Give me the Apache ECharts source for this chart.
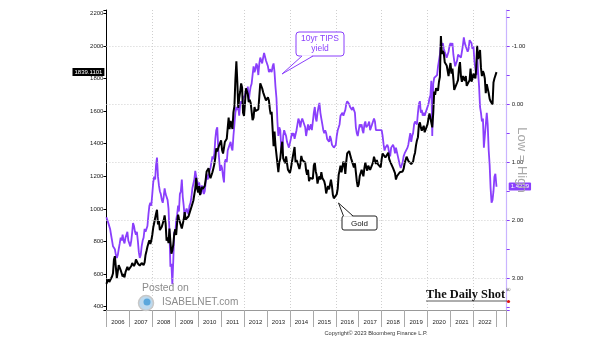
<!DOCTYPE html>
<html>
<head>
<meta charset="utf-8">
<script src="https://cdn.jsdelivr.net/npm/echarts@6/dist/echarts.min.js"></script>
<style>
  html, body { margin: 0; padding: 0; background: #fff; }
  #chart { width: 605px; height: 341px; }
</style>
</head>
<body>
<div id="chart"></div>
<script>
// Gold spot price (USD/oz), sampled on the 1st and 16th of each month, Jan 2006 - Dec 2022, plus the last print
const goldPrice = [
  540,555, 568,552, 560,555, 585,605, 690,710, 640,575, 615,655, 640,625, 625,585, 600,580, 612,622, 645,625,
  635,628, 650,668, 665,650, 663,690, 680,665, 665,652, 650,668, 665,655, 672,718, 742,768, 790,808, 785,805,
  840,885, 915,905, 970,995, 905,925, 870,880, 890,885, 930,960, 910,805, 825,790, 880,800, 725,745, 780,845,
  875,840, 920,965, 940,920, 922,880, 888,935, 980,935, 935,940, 955,945, 955,1012, 1002,1050, 1048,1125, 1190,1125,
  1100,1140, 1085,1112, 1135,1122, 1125,1142, 1180,1230, 1222,1250, 1210,1188, 1180,1225, 1250,1275, 1315,1372, 1352,1350, 1390,1385,
  1420,1362, 1340,1375, 1410,1400, 1430,1495, 1560,1490, 1540,1530, 1490,1592, 1630,1790, 1905,1780, 1620,1680, 1720,1770, 1745,1590,
  1570,1652, 1740,1735, 1705,1655, 1670,1650, 1660,1545, 1560,1625, 1600,1590, 1600,1610, 1690,1770, 1775,1740, 1715,1722, 1720,1665,
  1675,1685, 1665,1610, 1580,1595, 1600,1385, 1475,1390, 1395,1380, 1225,1285, 1310,1370, 1412,1310, 1310,1280, 1322,1280, 1240,1232,
  1220,1248, 1260,1320, 1330,1380, 1285,1300, 1285,1295, 1245,1275, 1325,1300, 1295,1305, 1285,1235, 1210,1240, 1170,1190, 1200,1195,
  1185,1265, 1282,1230, 1210,1155, 1185,1200, 1180,1225, 1190,1180, 1170,1145, 1095,1120, 1140,1120, 1115,1180, 1140,1085, 1065,1060,
  1062,1090, 1125,1210, 1235,1265, 1225,1235, 1290,1275, 1215,1290, 1340,1330, 1355,1345, 1310,1320, 1315,1255, 1280,1225, 1170,1135,
  1150,1200, 1210,1240, 1250,1200, 1250,1285, 1255,1235, 1265,1255, 1240,1230, 1270,1285, 1320,1320, 1275,1300, 1275,1280, 1275,1255,
  1305,1340, 1345,1350, 1315,1315, 1325,1345, 1305,1290, 1295,1280, 1250,1240, 1220,1180, 1200,1200, 1190,1225, 1215,1220, 1230,1245,
  1280,1290, 1320,1330, 1295,1305, 1290,1275, 1280,1290, 1325,1345, 1390,1420, 1440,1515, 1530,1500, 1480,1490, 1510,1470, 1465,1480,
  1520,1555, 1585,1585, 1590,1500, 1590,1720, 1700,1740, 1740,1725, 1780,1810, 2060,1950, 1970,1955, 1900,1905, 1880,1890, 1815,1860,
  1895,1830, 1860,1795, 1730,1730, 1730,1775, 1790,1865, 1900,1815, 1780,1815, 1810,1785, 1815,1755, 1755,1765, 1790,1860, 1780,1800,
  1830,1820, 1800,1870, 2000,1920, 1925,1975, 1865,1815, 1845,1830, 1800,1710, 1765,1775, 1710,1675, 1660,1650, 1640,1775, 1800,1790,
  1839.1101
];

// US 10-year TIPS real yield (%), same sampling dates
const tipsYield = [
  1.95,1.95, 2.05,2.05, 2.15,2.25, 2.35,2.45, 2.45,2.5, 2.6,2.65, 2.6,2.5, 2.4,2.3, 2.35,2.25, 2.35,2.4, 2.3,2.25, 2.2,2.35,
  2.4,2.45, 2.35,2.2, 2.05,2.1, 2.2,2.25, 2.2,2.35, 2.55,2.65, 2.6,2.45, 2.35,2.3, 2.15,2.2, 2.2,2.1, 1.9,1.75, 1.7,1.75,
  1.55,1.35, 1.25,1.3, 1.05,0.92, 1.25,1.4, 1.5,1.55, 1.65,1.7, 1.6,1.45, 1.55,1.55, 1.65,1.8, 2.2,2.8, 2.75,3.1, 2.7,2.2,
  2.25,2.0, 1.9,1.75, 1.85,1.55, 1.5,1.3, 1.6,1.75, 1.95,1.85, 1.8,1.85, 1.9,1.75, 1.7,1.6, 1.45,1.45, 1.3,1.15, 1.15,1.35,
  1.4,1.35, 1.45,1.55, 1.4,1.4, 1.55,1.5, 1.35,1.2, 1.3,1.25, 1.15,1.1, 1.1,0.9, 0.95,0.85, 0.6,0.45, 0.4,0.75, 0.95,1.15,
  1.05,1.1, 1.25,1.35, 1.0,0.95, 1.0,0.8, 0.75,0.75, 0.65,0.75, 0.8,0.55, 0.35,0.15, 0.05,0.1, 0.05,0.2, 0.0,-0.05, 0.0,-0.1,
  -0.1,-0.15, -0.25,-0.2, -0.3,-0.05, -0.2,-0.3, -0.35,-0.5, -0.65,-0.55, -0.6,-0.7, -0.65,-0.5, -0.7,-0.8, -0.75,-0.7, -0.8,-0.88, -0.85,-0.75,
  -0.7,-0.65, -0.55,-0.6, -0.6,-0.55, -0.65,-0.7, -0.55,-0.3, -0.1,0.3, 0.55,0.4, 0.45,0.75, 0.85,0.55, 0.45,0.5, 0.55,0.65, 0.7,0.75,
  0.75,0.6, 0.5,0.55, 0.5,0.6, 0.6,0.45, 0.35,0.25, 0.3,0.4, 0.3,0.25, 0.3,0.3, 0.4,0.55, 0.45,0.35, 0.45,0.4, 0.35,0.45,
  0.3,0.15, 0.05,0.25, 0.3,0.15, 0.05,-0.02, 0.15,0.25, 0.35,0.45, 0.5,0.45, 0.5,0.6, 0.6,0.65, 0.55,0.6, 0.7,0.7, 0.75,0.75,
  0.7,0.55, 0.45,0.4, 0.35,0.2, 0.2,0.15, 0.2,0.15, 0.1,0.0, -0.05,-0.05, 0.0,0.05, 0.05,0.1, 0.05,0.1, 0.15,0.4, 0.5,0.55,
  0.45,0.35, 0.4,0.35, 0.45,0.5, 0.35,0.3, 0.4,0.4, 0.35,0.3, 0.45,0.45, 0.35,0.3, 0.25,0.3, 0.45,0.45, 0.45,0.45, 0.45,0.45,
  0.45,0.55, 0.7,0.8, 0.75,0.75, 0.7,0.75, 0.85,0.9, 0.75,0.75, 0.7,0.75, 0.85,0.75, 0.75,0.9, 0.9,1.05, 1.1,1.05, 1.0,0.9,
  0.85,0.85, 0.85,0.75, 0.7,0.6, 0.5,0.65, 0.55,0.5, 0.35,0.3, 0.3,0.35, 0.15,0.0, -0.05,0.15, 0.1,0.2, 0.15,0.2, 0.15,0.1,
  0.1,0.0, -0.1,-0.15, -0.4,0.55, -0.35,-0.45, -0.45,-0.45, -0.5,-0.65, -0.75,-0.85, -1.05,-1.0, -1.05,-0.95, -0.9,-0.9, -0.8,-0.85, -0.9,-1.0,
  -1.05,-1.0, -1.05,-0.85, -0.75,-0.65, -0.65,-0.75, -0.85,-0.85, -0.85,-0.8, -0.9,-1.0, -1.15,-1.05, -1.05,-0.95, -0.9,-0.95, -1.1,-1.1, -1.05,-0.95,
  -1.0,-0.75, -0.6,-0.5, -0.85,-0.55, -0.3,0.05, 0.15,0.3, 0.25,0.75, 0.55,0.55, 0.15,0.35, 0.8,1.05, 1.45,1.7, 1.65,1.5, 1.25,1.2,
  1.4229
];

// Axis labels
const yearLabels = ['2006','2007','2008','2009','2010','2011','2012','2013','2014','2015','2016','2017','2018','2019','2020','2021','2022'];
const goldTicks = [400, 600, 800, 1000, 1200, 1400, 1600, 1800, 2000, 2200];
const tipsTicks = [-1, 0, 1, 2, 3];

// Sampling dates as fractional years (1st and 16th of each month, last print on 3 Jan 2023)
function fracYear(y, m, d) {
  const s = Date.UTC(y, 0, 1), e = Date.UTC(y + 1, 0, 1);
  return y + (Date.UTC(y, m, d) - s) / (e - s);
}
const sampleDates = [];
yearLabels.forEach(function (ys) {
  const y = +ys;
  for (let m = 0; m < 12; m++) { sampleDates.push(fracYear(y, m, 1)); sampleDates.push(fracYear(y, m, 16)); }
});
sampleDates.push(fracYear(2023, 0, 3));

const goldData = sampleDates.map((x, i) => [x, goldPrice[i]]);
// the yield axis is drawn upside down (low yield = high), so values are negated
const tipsData = sampleDates.map((x, i) => [x, -tipsYield[i]]);

const PURPLE = '#8a3ffc';
const goldLast = goldPrice[goldPrice.length - 1];
const tipsLast = tipsYield[tipsYield.length - 1];

const chart = echarts.init(document.getElementById('chart'), null, { renderer: 'canvas' });

const isInt = v => Math.abs(v - Math.round(v)) < 1e-6;
const FONT = 'Liberation Sans';
const HIDDEN_LINE = { color: 'rgba(0,0,0,0)', width: 0 };

const option = {
  animation: false,
  backgroundColor: '#fff',
  grid: { left: 106.4, right: 98.3, top: 10, bottom: 31 },
  xAxis: [
    {
      type: 'value', min: 2006, max: 2023.45, interval: 1, position: 'bottom',
      axisLine: { onZero: false, lineStyle: { color: '#999', width: 1 } },
      axisTick: { length: 17, lineStyle: { color: '#aaa' } },
      axisLabel: {
        fontFamily: FONT, fontSize: 6, color: '#222', margin: 9,
        padding: [0, 0, 0, 23],
        formatter: v => (isInt(v) && yearLabels.indexOf(String(Math.round(v))) >= 0) ? String(Math.round(v)) : ''
      },
      splitLine: { show: false }
    },
    {
      type: 'value', min: 2006, max: 2023.45, interval: 2, position: 'bottom',
      axisLine: { show: false, onZero: false }, axisTick: { show: false }, axisLabel: { show: false },
      splitLine: { show: true, lineStyle: { color: '#cfcfcf', type: [1, 2], width: 1 } }
    }
  ],
  yAxis: [
    {
      type: 'value', position: 'left', min: 380, max: 2220, splitNumber: 9,
      axisLine: { show: true, onZero: false, lineStyle: { color: '#000', width: 1 } },
      axisTick: { show: true, length: 3, inside: false, lineStyle: { color: '#000' } },
      axisLabel: {
        fontFamily: FONT, fontSize: 6, color: '#222', margin: 3,
        formatter: v => goldTicks.indexOf(Math.round(v)) >= 0 && isInt(v) ? String(Math.round(v)) : ''
      },
      splitLine: { show: false }
    },
    {
      type: 'value', position: 'right', min: -3.546, max: 1.62, splitNumber: 5,
      axisLine: { show: true, onZero: false, lineStyle: { color: '#c9b4ff', width: 1.2 } },
      axisTick: { show: true, length: 3, lineStyle: { color: PURPLE } },
      minorTick: { show: true, splitNumber: 2, length: 3, lineStyle: { color: PURPLE } },
      axisLabel: {
        fontFamily: FONT, fontSize: 6, color: '#222', margin: 5,
        formatter: v => (isInt(v) && tipsTicks.indexOf(-Math.round(v)) >= 0) ? (-Math.round(v) + 0).toFixed(2) : ''
      },
      splitLine: { show: false }
    }
  ],
  series: [
    {
      // horizontal grid on the yield scale
      name: 'grid', type: 'line', xAxisIndex: 0, yAxisIndex: 1, data: [], z: 1, silent: true,
      markLine: {
        silent: true, symbol: ['none', 'none'], animation: false,
        label: { show: false },
        lineStyle: { color: '#cfcfcf', type: [1, 2], width: 1 },
        data: tipsTicks.map(t => ({ yAxis: -t }))
      }
    },
    {
      name: '10yr TIPS yield', type: 'line', xAxisIndex: 0, yAxisIndex: 1, data: tipsData,
      showSymbol: false, symbol: 'none', z: 3,
      lineStyle: { color: PURPLE, width: 1.8 },
      markLine: {
        silent: true, symbol: ['none', 'none'], animation: false,
        lineStyle: HIDDEN_LINE,
        label: {
          show: true, position: 'end', distance: 2,
          formatter: () => tipsLast.toFixed(4),
          backgroundColor: PURPLE, color: '#fff', fontFamily: FONT, fontSize: 6,
          padding: [1, 2, 1, 2], borderRadius: 1
        },
        data: [{ yAxis: -tipsLast }]
      }
    },
    {
      name: 'Gold', type: 'line', xAxisIndex: 0, yAxisIndex: 0, data: goldData,
      showSymbol: false, symbol: 'none', z: 4,
      lineStyle: { color: '#000', width: 2 },
      markLine: {
        silent: true, symbol: ['none', 'none'], animation: false,
        lineStyle: HIDDEN_LINE,
        label: {
          show: true, position: 'start', distance: 2,
          formatter: () => goldLast.toFixed(4),
          backgroundColor: '#000', color: '#fff', fontFamily: FONT, fontSize: 6,
          padding: [1, 2, 1, 2]
        },
        data: [{ yAxis: goldLast }]
      }
    }
  ],
  graphic: [
    // inverted-scale note beside the yield axis
    {
      type: 'text', x: 522, y: 160, rotation: -Math.PI / 2, z: 10,
      style: { text: 'Low = High', fill: '#a8a8a8', font: '13px "Liberation Sans"', align: 'center', verticalAlign: 'middle' }
    },
    // TIPS callout
    { type: 'rect', z: 20, shape: { x: 296, y: 32, width: 48, height: 24, r: 3 }, style: { fill: '#fff', stroke: PURPLE, lineWidth: 1 } },
    { type: 'polygon', z: 21, shape: { points: [[302, 55.2], [313, 55.2], [282, 74]] }, style: { fill: '#fff' } },
    { type: 'polyline', z: 22, shape: { points: [[302, 56], [282, 74], [313, 56]] }, style: { stroke: PURPLE, lineWidth: 1, fill: null } },
    {
      type: 'text', z: 23, x: 320, y: 44,
      style: { text: '10yr TIPS\nyield', fill: PURPLE, font: '8.5px "Liberation Sans"', align: 'center', verticalAlign: 'middle', lineHeight: 10 }
    },
    // Gold callout
    { type: 'rect', z: 20, shape: { x: 342, y: 216, width: 35, height: 14, r: 2 }, style: { fill: '#fff', stroke: '#222', lineWidth: 1 } },
    { type: 'polygon', z: 21, shape: { points: [[343.5, 216.8], [353, 216.8], [338.5, 203]] }, style: { fill: '#fff' } },
    { type: 'polyline', z: 22, shape: { points: [[343.5, 216], [338.5, 203], [353, 216]] }, style: { stroke: '#222', lineWidth: 1, fill: null } },
    {
      type: 'text', z: 23, x: 359.5, y: 223.5,
      style: { text: 'Gold', fill: '#111', font: '8px "Liberation Sans"', align: 'center', verticalAlign: 'middle' }
    },
    // "Posted on ISABELNET.com"
    {
      type: 'text', z: 15, x: 142, y: 288,
      style: { text: 'Posted on', fill: '#8c8c8c', font: '10.4px "Liberation Sans"', align: 'left', verticalAlign: 'middle' }
    },
    { type: 'circle', z: 15, shape: { cx: 146, cy: 303, r: 7.5 }, style: { fill: '#bcd9ee', stroke: '#c8c8c8', lineWidth: 1.5 } },
    { type: 'circle', z: 16, shape: { cx: 147, cy: 302, r: 3.5 }, style: { fill: '#5aa7dc' } },
    {
      type: 'text', z: 15, x: 162, y: 302.5,
      style: { text: 'ISABELNET.com', fill: '#8c8c8c', font: '10.1px "Liberation Sans"', align: 'left', verticalAlign: 'middle' }
    },
    // The Daily Shot mark
    {
      type: 'text', z: 15, x: 426, y: 295,
      style: { text: 'The Daily Shot', fill: '#111', font: 'bold 12.4px "Liberation Serif"', align: 'left', verticalAlign: 'middle' }
    },
    {
      type: 'text', z: 15, x: 506, y: 290,
      style: { text: '®', fill: '#111', font: '6px "Liberation Serif"', align: 'left', verticalAlign: 'middle' }
    },
    { type: 'line', z: 15, shape: { x1: 426, y1: 301, x2: 507, y2: 301 }, style: { stroke: '#333', lineWidth: 0.8 } },
    { type: 'circle', z: 16, shape: { cx: 508.5, cy: 301.5, r: 1.6 }, style: { fill: '#e01010' } },
    // source line
    {
      type: 'text', z: 15, x: 376, y: 333,
      style: { text: 'Copyright© 2023 Bloomberg Finance L.P.', fill: '#333', font: '5.6px "Liberation Sans"', align: 'center', verticalAlign: 'middle' }
    }
  ]
};

chart.setOption(option);
</script>
</body>
</html>
